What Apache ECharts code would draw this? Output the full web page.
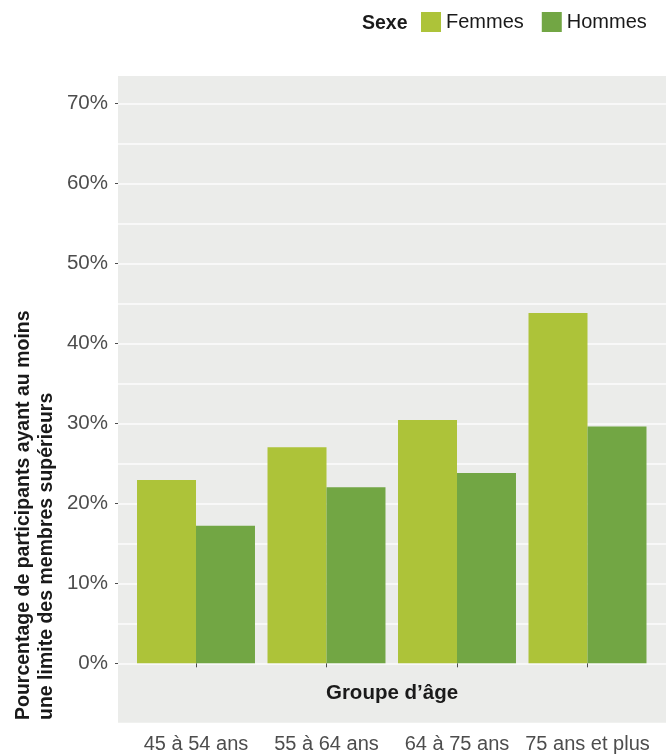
<!DOCTYPE html>
<html><head><meta charset="utf-8">
<script src="https://cdn.jsdelivr.net/npm/echarts@6/dist/echarts.min.js"></script>
<style>html,body{margin:0;padding:0;background:#fff}#c{width:667px;height:755px}</style>
</head><body><div id="c"></div>
<script>
var categories = ['45 à 54 ans', '55 à 64 ans', '64 à 75 ans', '75 ans et plus'];
var femmes = [22.9, 27.0, 30.4, 43.8];
var hommes = [17.2, 22.0, 23.8, 29.6];
var seriesNames = ['Femmes', 'Hommes'];
var yMin = 0, yMax = 70, yStep = 10;

var FONT = '"Liberation Sans Narrow", "Arial Narrow", "Liberation Sans", Arial, sans-serif';
var chart = echarts.init(document.getElementById('c'), null, {renderer: 'canvas'});
var option = {
  animation: false,
  backgroundColor: '#ffffff',
  title: {
    text: 'Sexe', left: 362, top: 13.5, padding: 0,
    textStyle: {fontFamily: FONT, fontWeight: 'bold', fontSize: 19.5, color: '#1a1a1a'}
  },
  legend: {
    data: seriesNames, left: 421, top: 12, icon: 'rect', padding: 0,
    itemWidth: 20, itemHeight: 20, itemGap: 18,
    textStyle: {fontFamily: FONT, fontSize: 20, color: '#1a1a1a', padding: [3, 0, 0, 0]}
  },
  grid: [
    {left: 118, right: 1, top: 76, bottom: 32.3, show: true, backgroundColor: '#EBECEA', borderWidth: 0},
    {left: 118, right: 1, top: 103.3, bottom: 91.7},
    {left: 130.75, right: 14.25, top: 103.3, bottom: 91.7}
  ],
  xAxis: [
    {gridIndex: 0, type: 'value', show: false},
    {gridIndex: 1, type: 'value', min: 0, max: 1,
     name: 'Groupe d\u2019âge', nameLocation: 'middle', nameGap: 20,
     nameTextStyle: {fontFamily: FONT, fontWeight: 'bold', fontSize: 20.5, color: '#1a1a1a'},
     axisLine: {show: false}, axisTick: {show: false}, axisLabel: {show: false}, splitLine: {show: false}},
    {gridIndex: 2, type: 'category', data: categories, offset: 59.4,
     axisLine: {show: false},
     axisTick: {show: true, alignWithLabel: true, length: 4, lineStyle: {color: '#4d4d4d'}},
     axisLabel: {interval: 0, fontFamily: FONT, fontSize: 20, color: '#4d4d4d', margin: 12}}
  ],
  yAxis: [
    {gridIndex: 0, type: 'value', show: false},
    {gridIndex: 1, type: 'value', min: yMin, max: yMax, interval: yStep,
     axisLine: {show: false},
     axisTick: {show: true, length: 3, lineStyle: {color: '#4d4d4d'}},
     axisLabel: {formatter: '{value}%', fontFamily: FONT, fontSize: 20.5, color: '#4d4d4d', margin: 10},
     splitLine: {show: true, lineStyle: {color: '#F8F8F8', width: 2}},
     minorTick: {show: false, splitNumber: 2},
     minorSplitLine: {show: true, lineStyle: {color: '#F8F8F8', width: 2}}},
    {gridIndex: 2, type: 'value', min: yMin, max: yMax, interval: yStep, show: false, splitLine: {show: false}}
  ],
  series: [
    {name: seriesNames[0], type: 'bar', xAxisIndex: 2, yAxisIndex: 2, data: femmes,
     barGap: '0%', barCategoryGap: '9.6%', itemStyle: {color: '#ADC339'}},
    {name: seriesNames[1], type: 'bar', xAxisIndex: 2, yAxisIndex: 2, data: hommes,
     barGap: '0%', barCategoryGap: '9.6%', itemStyle: {color: '#72A644'}}
  ],
  graphic: [{
    type: 'text', x: 12, y: 720, rotation: Math.PI / 2,
    style: {
      text: 'Pourcentage de participants ayant au moins\nune limite des membres supérieurs',
      font: 'bold 19.5px ' + FONT, fill: '#1a1a1a', align: 'left', verticalAlign: 'top', lineHeight: 23
    }
  }]
};
chart.setOption(option);
</script></body></html>
